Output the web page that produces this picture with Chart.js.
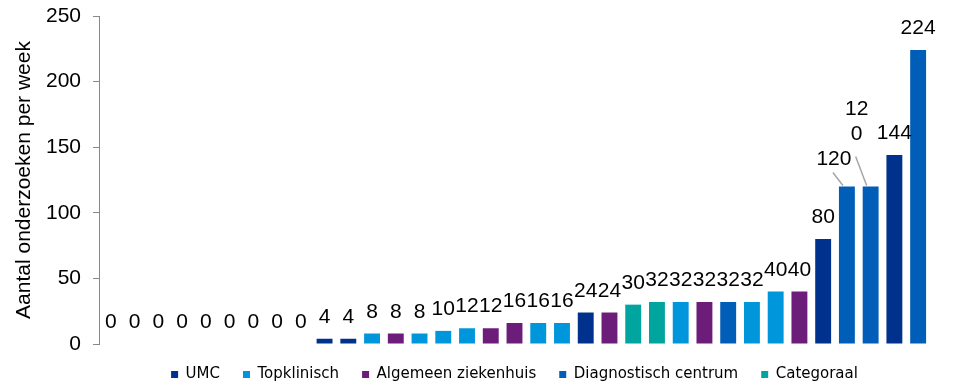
<!DOCTYPE html>
<html>
<head>
<meta charset="utf-8">
<script src="https://cdn.jsdelivr.net/npm/chart.js@4.4.1/dist/chart.umd.min.js"></script>
<style>
  html, body { margin: 0; padding: 0; background: #fff; }
</style>
</head>
<body>
<canvas id="chart" width="957" height="384"></canvas>
<script>
// one bar per centre, sorted by weekly volume
const categories = ['1', '2', '3', '4', '5', '6', '7', '8', '9', '10', '11', '12',
  '13', '14', '15', '16', '17', '18', '19', '20', '21', '22', '23', '24', '25',
  '26', '27', '28', '29', '30', '31', '32', '33', '34', '35'];
const values = [0, 0, 0, 0, 0, 0, 0, 0, 0, 4, 4, 8, 8, 8, 10, 12, 12, 16, 16, 16,
  24, 24, 30, 32, 32, 32, 32, 32, 40, 40, 80, 120, 120, 144, 224];
const types = ['UMC', 'UMC', 'UMC', 'UMC', 'UMC', 'UMC', 'UMC', 'UMC', 'UMC',
  'UMC', 'UMC', 'Topklinisch', 'Algemeen ziekenhuis', 'Topklinisch', 'Topklinisch',
  'Topklinisch', 'Algemeen ziekenhuis', 'Algemeen ziekenhuis', 'Topklinisch',
  'Topklinisch', 'UMC', 'Algemeen ziekenhuis', 'Categoraal', 'Categoraal',
  'Topklinisch', 'Algemeen ziekenhuis', 'Diagnostisch centrum', 'Topklinisch',
  'Topklinisch', 'Algemeen ziekenhuis', 'UMC', 'Diagnostisch centrum',
  'Diagnostisch centrum', 'UMC', 'Diagnostisch centrum'];
const groups = ['UMC', 'Topklinisch', 'Algemeen ziekenhuis', 'Diagnostisch centrum', 'Categoraal'];
const groupColors = ['#00318C', '#0096DC', '#6C1D7A', '#005EB8', '#00A59F'];
const yTicks = [0, 50, 100, 150, 200, 250];

const colorOf = (t) => groupColors[groups.indexOf(t)];
const numFont = '"Liberation Sans", Arial, sans-serif';

// labels that sit off-centre with a leader line (offsets relative to bar top)
const labelNudges = {
  31: { lines: ['120'], dx: -13, dy: -22, leader: [-14, -14, -4, -1] },
  32: { lines: ['12', '0'], dx: -14, dy: -72, gap: 25, leader: [-15, -30, -4, -1] },
};

const valueLabels = {
  id: 'valueLabels',
  afterDatasetsDraw(chart) {
    const ctx = chart.ctx;
    const bars = chart.getDatasetMeta(0).data;
    ctx.save();
    ctx.font = '21px ' + numFont;
    ctx.fillStyle = '#000';
    ctx.textAlign = 'center';
    ctx.textBaseline = 'alphabetic';
    bars.forEach((bar, i) => {
      const n = labelNudges[i];
      if (!n) {
        ctx.fillText(String(values[i]), bar.x, bar.y - 16);
        return;
      }
      n.lines.forEach((line, k) => {
        ctx.fillText(line, bar.x + n.dx, bar.y + n.dy + k * (n.gap || 0));
      });
      ctx.strokeStyle = '#A6A6A6';
      ctx.lineWidth = 1.5;
      ctx.beginPath();
      ctx.moveTo(bar.x + n.leader[0], bar.y + n.leader[1]);
      ctx.lineTo(bar.x + n.leader[2], bar.y + n.leader[3]);
      ctx.stroke();
    });
    ctx.restore();
  },
};

const ctx = document.getElementById('chart').getContext('2d');
new Chart(ctx, {
  type: 'bar',
  data: {
    labels: categories,
    datasets: [
      {
        data: values,
        backgroundColor: types.map(colorOf),
        borderWidth: 0,
        barPercentage: 0.67,
        categoryPercentage: 1,
      },
    ],
  },
  options: {
    responsive: false,
    animation: false,
    events: [],
    layout: { padding: { top: 16, right: 27, left: 0, bottom: -8 } },
    plugins: {
      tooltip: { enabled: false },
      legend: {
        position: 'bottom',
        fullSize: false,
        labels: {
          boxWidth: 7,
          boxHeight: 7,
          padding: 23,
          color: '#333',
          font: { family: '"DejaVu Sans", sans-serif', size: 15 },
          generateLabels: () =>
            groups.map((g, i) => ({
              text: g,
              fillStyle: groupColors[i],
              strokeStyle: groupColors[i],
              lineWidth: 0,
              hidden: false,
              datasetIndex: 0,
            })),
        },
      },
    },
    scales: {
      x: {
        display: false,
        offset: true,
      },
      y: {
        min: 0,
        max: 250,
        afterBuildTicks: (scale) => {
          scale.ticks = yTicks.map((v) => ({ value: v }));
        },
        afterFit: (scale) => {
          scale.width = 99;
          scale.paddingTop = 0;
          scale.paddingBottom = 0;
        },
        border: { color: '#888', width: 1 },
        grid: { drawOnChartArea: false, drawTicks: true, tickLength: 6, color: '#888' },
        ticks: { color: '#000', padding: 12, font: { family: numFont, size: 21 } },
        title: {
          display: true,
          text: 'Aantal onderzoeken per week',
          color: '#000',
          padding: { top: 12, bottom: 0 },
          font: { family: numFont, size: 21 },
        },
      },
    },
  },
  plugins: [valueLabels],
});
</script>
</body>
</html>
